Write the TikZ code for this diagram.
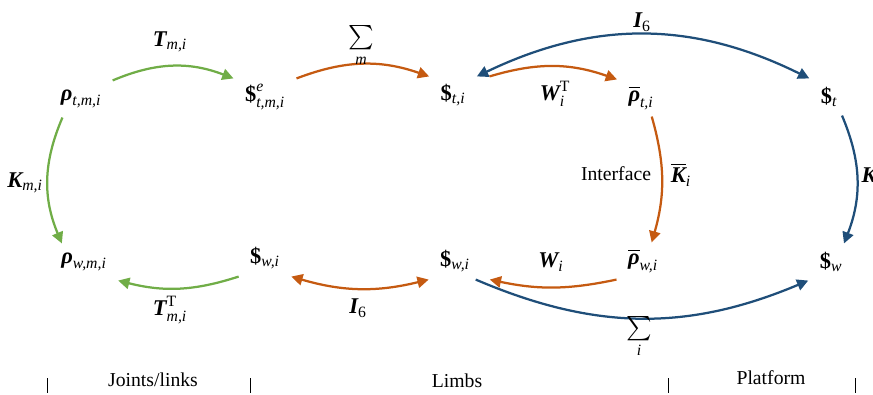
\documentclass[tikz,border=0pt]{standalone}
\usepackage{amsmath}
\usepackage{fontspec}
\setmainfont{Liberation Serif}
\usetikzlibrary{arrows.meta}

\definecolor{jointgreen}{RGB}{112,173,71}
\definecolor{limborange}{RGB}{197,90,17}
\definecolor{platblue}{RGB}{31,78,121}

% bold italic symbol, italic index, screw
\newcommand{\bv}[1]{\text{\bfseries\itshape #1}}
\newcommand{\sv}[1]{\text{\itshape #1}}
\newcommand{\screw}{\text{\bfseries\$}}

\begin{document}
\begin{tikzpicture}[
      x=0.025cm, y=-0.025cm,
      font=\fontsize{14pt}{17pt}\selectfont,
      var/.style={inner xsep=8pt, inner ysep=2pt, minimum height=26pt,
                  font=\fontsize{16pt}{19pt}\selectfont},
      lbl/.style={inner sep=1pt, font=\fontsize{16pt}{19pt}\selectfont},
      map/.style={line width=1.6pt, -{Triangle[length=8pt, width=8pt]}},
      dual/.style={line width=1.6pt,
                   {Triangle[length=8pt, width=8pt]}-{Triangle[length=8pt, width=8pt]}},
      tick/.style={draw=black, line width=.6pt}
    ]
    \useasboundingbox (0,0) rectangle (873,394);

    % Joints and links.
    \node[var] (rtmi) at (81,99) {$\bv{ρ}_{\sv{t,m,i}}$};
    \node[var] (setmi) at (265,97) {$\screw^{\sv{e}}_{\sv{t,m,i}}$};
    \node[var] (rwmi) at (84,262) {$\bv{ρ}_{\sv{w,m,i}}$};
    \node[var] (swmi) at (265,258) {$\screw_{\sv{w,i}}$};

    % Limbs.
    \node[var] (sti) at (453,95) {$\screw_{\sv{t,i}}$};
    \node[var] (rbti) at (641,98) {$\overline{\bv{ρ}}_{\sv{t,i}}$};
    \node[var] (swi) at (455,261) {$\screw_{\sv{w,i}}$};
    \node[var] (rbwi) at (643,261) {$\overline{\bv{ρ}}_{\sv{w,i}}$};

    % Platform.
    \node[var] (st) at (829,97) {$\screw_{\sv{t}}$};
    \node[var] (sw) at (831,262) {$\screw_{\sv{w}}$};

    % Maps between levels.
    \draw[map, jointgreen] (rtmi.north east) to[bend left=22] (setmi.north west);
    \draw[map, jointgreen] (rtmi.225) to[bend right=23] (rwmi.140);
    \draw[map, jointgreen] (swmi.south west) to[bend left=16] (rwmi.south east);
    \draw[map, limborange] (setmi.north east) to[bend left=20] (sti.north west);
    \draw[dual, limborange] (swmi.south east) to[bend right=15] (swi.south west);
    \draw[map, limborange] ([xshift=9pt]sti.north east) to[bend left=18] (rbti.north west);
    \draw[map, limborange] (rbti.-60) to[bend left=16] (rbwi.65);
    \draw[map, limborange] (rbwi.south west) to[bend left=12] ([xshift=6pt]swi.south east);
    \draw[dual, platblue] (sti.north east) to[bend left=26] (st.north west);
    \draw[map, platblue] (st.-55) to[bend left=22] (sw.55);
    \draw[map, platblue] ([xshift=-4pt]swi.south east) to[bend right=23] (sw.south west);

    % Map labels.
    \node[lbl] (lTm) at (170,42) {$\bv{T}_{\sv{m,i}}$};
    \node[lbl] (lKm) at (25,183) {$\bv{K}_{\sv{m,i}}$};
    \node[lbl] (lTmT) at (170,310) {$\bv{T}^{\text{T}}_{\sv{m,i}}$};
    \node[lbl] (lsm) at (361,46) {$\sum\limits_{\sv{m}}$};
    \node[lbl] (lIa) at (358,308) {$\bv{I}_{\text{6}}$};
    \node[lbl] (lWT) at (555,94) {$\bv{W}^{\text{T}}_{\sv{i}}$};
    \node[inner sep=1pt] (lint) at (616,174) {Interface};
    \node[lbl] (lKb) at (681,175) {$\overline{\bv{K}}_{\sv{i}}$};
    \node[lbl] (lW) at (551,262) {$\bv{W}_{\sv{i}}$};
    \node[lbl] (lIb) at (642,22) {$\bv{I}_{\text{6}}$};
    \node[lbl] (lsi) at (639,337) {$\sum\limits_{\sv{i}}$};
    \node[lbl, anchor=west] (lK) at (860,175) {$\bv{K}$};

    % Levels.
    \node (joints) at (153,380) {Joints/links};
    \node (limbs) at (457,381) {Limbs};
    \node (plat) at (771,378) {Platform};
    \foreach \x in {47,250,668,855}
      \draw[tick] (\x,378) -- (\x,393);
  \end{tikzpicture}
\end{document}
